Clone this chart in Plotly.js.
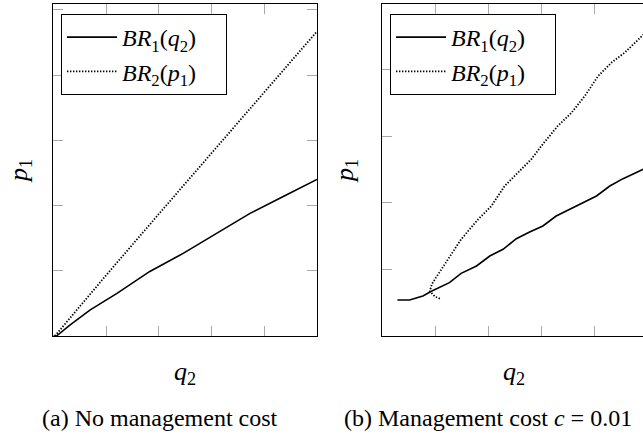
<!DOCTYPE html>
<html>
<head>
<meta charset="utf-8">
<script src="https://cdn.plot.ly/plotly-3.0.1.min.js"></script>
<style>
body{margin:0;padding:0;background:#fff;}
</style>
</head>
<body>
<div id="chart" style="width:643px;height:435px"></div>
<script>
// (a) No management cost
const a_br1_q2 = [0, 0.06, 0.32, 0.70, 1.20, 1.83, 2.47, 3.10, 3.73, 4.36, 4.97, 5.0];
const a_br1_p1 = [0, 0.0, 0.17, 0.40, 0.65, 0.99, 1.27, 1.58, 1.88, 2.14, 2.39, 2.40];
const a_br2_q2 = [0.03, 1.0, 2.0, 3.0, 4.0, 5.0];
const a_br2_p1 = [0.0, 0.93, 1.87, 2.80, 3.74, 4.67];

// (b) Management cost c = 0.01
const b_br1_q2 = [0.29, 0.52, 0.77, 0.93, 1.27, 1.49, 1.78, 2.03, 2.28, 2.53, 2.78, 3.03, 3.28, 3.53, 3.79, 4.04, 4.29, 4.54, 4.92, 5.0];
const b_br1_p1 = [0.54, 0.54, 0.60, 0.67, 0.80, 0.94, 1.05, 1.20, 1.30, 1.46, 1.56, 1.65, 1.80, 1.90, 2.00, 2.10, 2.25, 2.36, 2.50, 2.54];
const b_br2_q2 = [1.09, 1.00, 0.90, 0.94, 1.02, 1.24, 1.49, 1.81, 2.06, 2.31, 2.56, 2.81, 3.00, 3.31, 3.57, 3.82, 4.07, 4.32, 4.57, 4.92, 5.0];
const b_br2_p1 = [0.56, 0.59, 0.67, 0.78, 0.88, 1.15, 1.45, 1.75, 1.95, 2.25, 2.45, 2.65, 2.85, 3.15, 3.35, 3.60, 3.90, 4.10, 4.25, 4.52, 4.58];

const legendNames = ['<i>BR</i><sub>1</sub>(<i>q</i><sub>2</sub>)\u00a0\u00a0\u00a0\u00a0', '<i>BR</i><sub>2</sub>(<i>p</i><sub>1</sub>)\u00a0\u00a0\u00a0\u00a0'];
const xLabel = '<i>q</i><sub>2</sub>';
const yLabel = '<i>p</i><sub>1</sub>';
const captions = ['(a) No management cost', '(b) Management cost <i>c</i> = 0.01'];

const W = 643, H = 435;
const px = v => v / W;
const py = v => (H - v) / H;
const SERIF = 'Liberation Serif';

const solid = {color: '#000', width: 1.6};
const dotted = {color: '#000', width: 1.8, dash: '1.4px,1.6px'};

const traces = [
  {x: a_br1_q2, y: a_br1_p1, mode: 'lines', line: solid, name: legendNames[0], xaxis: 'x', yaxis: 'y', legend: 'legend'},
  {x: a_br2_q2, y: a_br2_p1, mode: 'lines', line: dotted, name: legendNames[1], xaxis: 'x', yaxis: 'y', legend: 'legend'},
  {x: b_br1_q2, y: b_br1_p1, mode: 'lines', line: solid, name: legendNames[0], xaxis: 'x2', yaxis: 'y2', legend: 'legend2'},
  {x: b_br2_q2, y: b_br2_p1, mode: 'lines', line: dotted, name: legendNames[1], xaxis: 'x2', yaxis: 'y2', legend: 'legend2'}
];

const axBase = {
  showline: true, linecolor: '#000', linewidth: 1.2, mirror: 'ticks',
  ticks: 'inside', ticklen: 10, tickcolor: '#a8a8a8', tickwidth: 1,
  showticklabels: false, showgrid: false, zeroline: false, dtick: 1, tick0: 0
};

function legendOf(xpx) {
  return {
    bordercolor: '#000', borderwidth: 1, bgcolor: '#fff',
    font: {family: SERIF, size: 24, color: '#000'},
    xanchor: 'left', yanchor: 'top', tracegroupgap: 0, itemwidth: 50,
    x: px(xpx), y: py(14)
  };
}

function ann(text, xpx, ypx, size, angle) {
  return {text: text, x: px(xpx), y: py(ypx), xref: 'paper', yref: 'paper', showarrow: false,
          xanchor: 'center', yanchor: 'middle', textangle: angle || 0,
          font: {family: SERIF, size: size, color: '#000'}};
}

const layout = {
  width: W, height: H,
  margin: {l: 0, r: 0, t: 0, b: 0},
  paper_bgcolor: '#fff', plot_bgcolor: '#fff',
  font: {family: SERIF, size: 20, color: '#000'},
  showlegend: true,
  xaxis: Object.assign({}, axBase, {domain: [px(53.3), px(317)], range: [0, 5], anchor: 'y'}),
  yaxis: Object.assign({}, axBase, {domain: [py(336), py(4)], range: [0, 5.09], anchor: 'x'}),
  xaxis2: Object.assign({}, axBase, {domain: [px(382), 1], range: [0, (643 - 382) / 53.1], anchor: 'y2'}),
  yaxis2: Object.assign({}, axBase, {domain: [py(336), py(4)], range: [0, 4.98], anchor: 'x2', mirror: false}),
  legend: legendOf(61),
  legend2: legendOf(390),
  annotations: [
    ann(xLabel, 185, 373, 26),
    ann(xLabel, 514, 373, 26),
    ann(yLabel, 20, 171, 26, -90),
    ann(yLabel, 346, 171, 26, -90),
    ann(captions[0], 160, 418, 24),
    ann(captions[1], 488, 418, 24)
  ]
};

Plotly.newPlot('chart', traces, layout, {displayModeBar: false, staticPlot: true});
</script>
</body>
</html>
